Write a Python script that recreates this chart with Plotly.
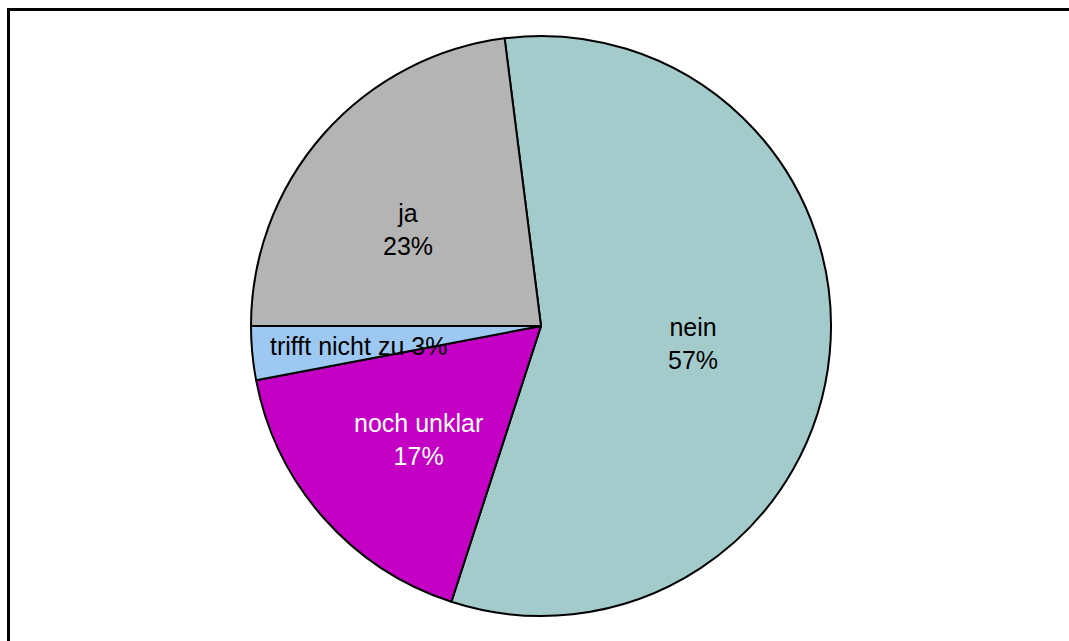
import plotly.graph_objects as go

# Survey answers and their shares (percent)
labels = ["nein", "noch unklar", "trifft nicht zu", "ja"]
values = [57, 17, 3, 23]

# Slice fills
colors = ["#a3cbcb", "#c400c4", "#9dc8f2", "#b4b4b4"]
label_font_colors = ["black", "white", "black", "black"]
# Label anchors relative to the pie centre, in units of the radius (x right, y up)
label_offsets = [(0.524, -0.059), (-0.424, -0.390), (-0.628, -0.069), (-0.459, 0.334)]
# Whether name and percentage share one line
single_line = [False, False, True, False]

W, H = 1069, 641
CX, CY, R = 541, 326, 290  # pie centre and radius in pixels

total = sum(values)
# Start so that the "ja" slice begins exactly at 9 o'clock
rotation = 270 - 360 * sum(values[:3]) / total

fig = go.Figure(
    go.Pie(
        labels=labels,
        values=values,
        sort=False,
        direction="clockwise",
        rotation=rotation,
        textinfo="none",
        hoverinfo="label+percent",
        marker=dict(colors=colors, line=dict(color="black", width=2)),
        domain=dict(x=[(CX - R) / W, (CX + R) / W], y=[1 - (CY + R) / H, 1 - (CY - R) / H]),
        showlegend=False,
    )
)

annotations = []
for lab, val, (ox, oy), fc, one in zip(labels, values, label_offsets, label_font_colors, single_line):
    pct = f"{round(100 * val / total)}%"
    text = f"{lab} {pct}" if one else f"{lab}<br>{pct}"
    annotations.append(
        dict(
            x=(CX + ox * R) / W,
            y=1 - (CY - oy * R) / H,
            xref="paper",
            yref="paper",
            text=text,
            showarrow=False,
            xanchor="center",
            yanchor="middle",
            font=dict(family="Liberation Sans, Arial, sans-serif", size=25, color=fc),
        )
    )

fig.update_layout(
    width=W,
    height=H,
    margin=dict(l=0, r=0, t=0, b=0),
    paper_bgcolor="white",
    plot_bgcolor="white",
    annotations=annotations,
    shapes=[
        dict(
            type="rect",
            xref="paper",
            yref="paper",
            x0=8.5 / W,
            y0=-0.05,
            x1=1.05,
            y1=1 - 9.5 / H,
            line=dict(color="black", width=3),
            fillcolor="rgba(0,0,0,0)",
        )
    ],
)

fig.write_html("out.html")
